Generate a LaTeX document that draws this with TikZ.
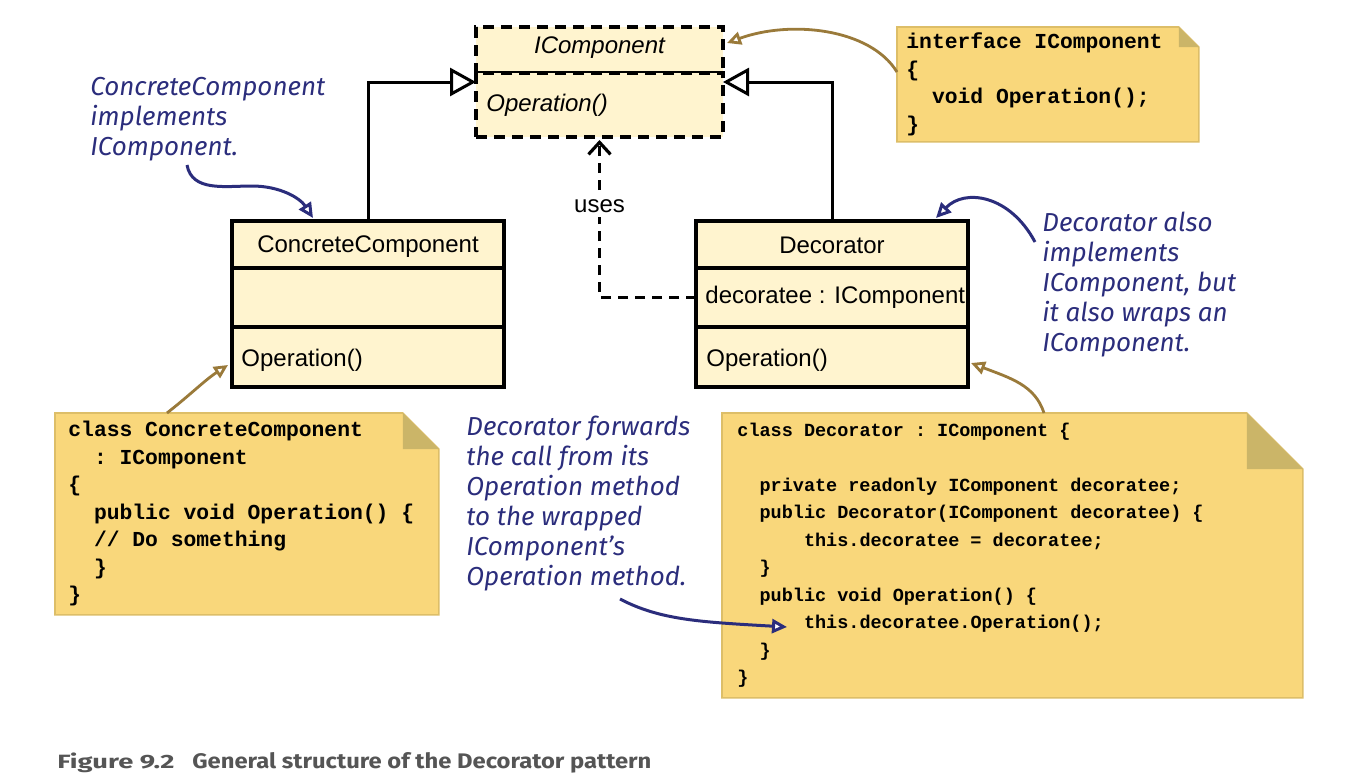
\documentclass[tikz,border=0pt]{standalone}
\usepackage{fontspec}
\setmainfont{Liberation Sans}
\setmonofont{Liberation Mono}
\newfontfamily\handfont{Fira Sans}
\newfontfamily\capfont{Fira Sans}
\usetikzlibrary{arrows.meta,calc,backgrounds}
\definecolor{cream}{HTML}{FFF4CF}
\definecolor{notefill}{HTML}{F9D77B}
\definecolor{noteedge}{HTML}{DDBE68}
\definecolor{notefold}{HTML}{CBB568}
\definecolor{anno}{HTML}{2B2D7C}
\definecolor{brownarr}{HTML}{9A7A3A}
\definecolor{capgray}{HTML}{555555}
\newcommand\notebg[2]{%
  \filldraw[fill=notefill, draw=noteedge, line width=0.8pt] (#1.north west) -- ([xshift=-#2]#1.north east) -- ([yshift=-#2]#1.north east) -- (#1.south east) -- (#1.south west) -- cycle;
  \fill[notefold] ([xshift=-#2]#1.north east) -- ([xshift=-#2,yshift=-#2]#1.north east) -- ([yshift=-#2]#1.north east) -- cycle;}
\newcommand\csp{\hspace*{0.6em}}
\begin{document}
\begin{tikzpicture}[x=0.5pt,y=-0.5pt,
  box/.style={draw=black, line width=1.8pt, fill=cream, minimum width=136pt, anchor=north west, inner sep=0pt, outer sep=0pt},
  ibox/.style={box, minimum width=123.5pt, line width=2pt, dash pattern=on 5.5pt off 3.5pt},
  lbl/.style={inner sep=0pt, font=\fontsize{12pt}{14pt}\selectfont},
  ilbl/.style={inner sep=0pt, font=\fontsize{12pt}{14pt}\selectfont\itshape},
  note/.style={anchor=north west, align=left, inner ysep=0pt, font=\ttfamily\bfseries\fontsize{10.67pt}{13.75pt}\selectfont},
  snote/.style={anchor=north west, align=left, inner ysep=0pt, font=\ttfamily\bfseries\fontsize{9.25pt}{13.75pt}\selectfont},
  hand/.style={anchor=north west, align=left, inner sep=0pt, text=anno, font=\handfont\itshape\fontsize{13pt}{15pt}\selectfont},
  gen/.style={line width=1.5pt, -{Triangle[open, length=13pt, width=14pt, fill=white]}},
  dep/.style={line width=1.6pt, dash pattern=on 5pt off 3.5pt, -{Straight Barb[length=6pt, width=11pt]}},
  bluearrow/.style={draw=anno, line width=1.5pt, -{Triangle[open, length=7.5pt, width=7pt, fill=white]}},
  brownarrow/.style={draw=brownarr, line width=1.4pt, -{Triangle[open, length=7pt, width=6.5pt, fill=white]}},
  captext/.style={inner sep=0pt, text=capgray, font=\capfont\bfseries}
]
\useasboundingbox (0,0) rectangle (1356,782);

% IComponent interface
\node[ibox, minimum height=23pt] (ictitle) at (476,27) {};
\node[ibox, minimum height=32pt] (icops) at (476,73) {};
\node[ilbl] (ictitletxt) at ([yshift=1pt]ictitle.center) {IComponent};
\node[ilbl, anchor=west] (icopstxt) at ([xshift=5pt]icops.west) {Operation()};

% ConcreteComponent
\node[box, minimum height=23.5pt] (cctitle) at (232,221) {};
\node[box, minimum height=29.5pt] (ccattr) at (232,268) {};
\node[box, minimum height=30pt] (ccops) at (232,327) {};
\node[lbl] (cctitletxt) at ([yshift=-1pt]cctitle.center) {ConcreteComponent};
\node[lbl, anchor=west] (ccopstxt) at ([xshift=4.5pt,yshift=-1.5pt]ccops.west) {Operation()};

% Decorator
\node[box, minimum height=23.5pt] (dectitle) at (696,221) {};
\node[box, minimum height=29.5pt] (decattr) at (696,268) {};
\node[box, minimum height=30pt] (decops) at (696,327) {};
\node[lbl] (dectitletxt) at ([yshift=-0.5pt]dectitle.center) {Decorator};
\node[lbl, anchor=west] (decattrtxt) at ([xshift=4.5pt]decattr.west) {decoratee : IComponent};
\node[lbl, anchor=west] (decopstxt) at ([xshift=5pt,yshift=-1.5pt]decops.west) {Operation()};

% generalisations
\draw[gen] (cctitle.north) |- ($(icops.north west)+(0,9)$);
\draw[gen] (dectitle.north) |- ($(icops.north east)+(0,9)$);

% uses dependency
\draw[dep] (decattr.west) -| ($(icops.south)+(0,3)$);
\node[lbl, fill=white, inner sep=2pt] (uses) at (599.5,206) {uses};

% notes
\node[note, minimum width=150.5pt, minimum height=57pt, text width=141.5pt, inner xsep=4.5pt] (n1) at (897,27)
  {interface\csp IComponent\\\{\\\csp\csp void\csp Operation();\\\}};
\node[note, minimum width=191.5pt, minimum height=100.5pt, text width=178.5pt, inner xsep=6.5pt] (n2) at (55,413)
  {class\csp ConcreteComponent\\\csp\csp :\csp IComponent\\\{\\\csp\csp public\csp void\csp Operation()\csp\{\\\csp\csp//\csp Do\csp something\\\csp\csp\}\\\}};
\node[snote, minimum width=290pt, minimum height=142pt, text width=275pt, inner xsep=7.5pt] (n3) at (722,413)
  {class\csp Decorator\csp :\csp IComponent\csp\{\\\strut\\\csp\csp private\csp readonly\csp IComponent\csp decoratee;\\\csp\csp public\csp Decorator(IComponent\csp decoratee)\csp\{\\\csp\csp\csp\csp\csp\csp this.decoratee\csp =\csp decoratee;\\\csp\csp\}\\\csp\csp public\csp void\csp Operation()\csp\{\\\csp\csp\csp\csp\csp\csp this.decoratee.Operation();\\\csp\csp\}\\\}};
\begin{scope}[on background layer]
  \fill[white] (0,0) rectangle (1356,782);
  \notebg{n1}{10pt}
  \notebg{n2}{18pt}
  \notebg{n3}{28pt}
\end{scope}

% brown note connectors
\draw[brownarrow] ($(n1.north west)+(0,45)$) .. controls (870,28) and (790,20) .. ($(ictitle.east)+(4,-7)$);
\draw[brownarrow] ($(n2.north west)+(112,0)$) .. controls (190,395) and (205,380) .. ($(ccops.west)+(-4,8)$);
\draw[brownarrow] ($(n3.north west)+(322,0)$) .. controls (1035,385) and (1010,378) .. ($(decops.east)+(3,6)$);

% annotations
\node[hand] (a1) at (90,77) {ConcreteComponent\\implements\\IComponent.};
\node[hand] (a2) at (1042,212) {Decorator also\\implements\\IComponent, but\\it also wraps an\\IComponent.};
\node[hand] (a3) at (466,416) {Decorator forwards\\the call from its\\Operation method\\to the wrapped\\IComponent’s\\Operation method.};
\coordinate (a1s) at (187,165);
\coordinate (a2s) at (1035,242);
\coordinate (a3s) at (620,599);
\draw[bluearrow] (a1s) .. controls (192,192) and (225,186) .. (252,186) .. controls (280,186) and (300,198) .. ($(cctitle.north west)+(81,-3)$);
\draw[bluearrow] (a2s) .. controls (1010,195) and (965,188) .. ($(dectitle.north east)+(-32,-3)$);
\draw[bluearrow] (a3s) .. controls (660,620) and (700,622) .. ($(n3.north west)+(65,214)$);

% caption
\node[captext, anchor=base west] (fig) at (57,768) {\resizebox{58.5pt}{7.8pt}{Figure 9.2}};
\node[captext, anchor=base west] (captxt) at (192,768) {\resizebox{229.5pt}{8pt}{General structure of the Decorator pattern}};
\end{tikzpicture}
\end{document}
